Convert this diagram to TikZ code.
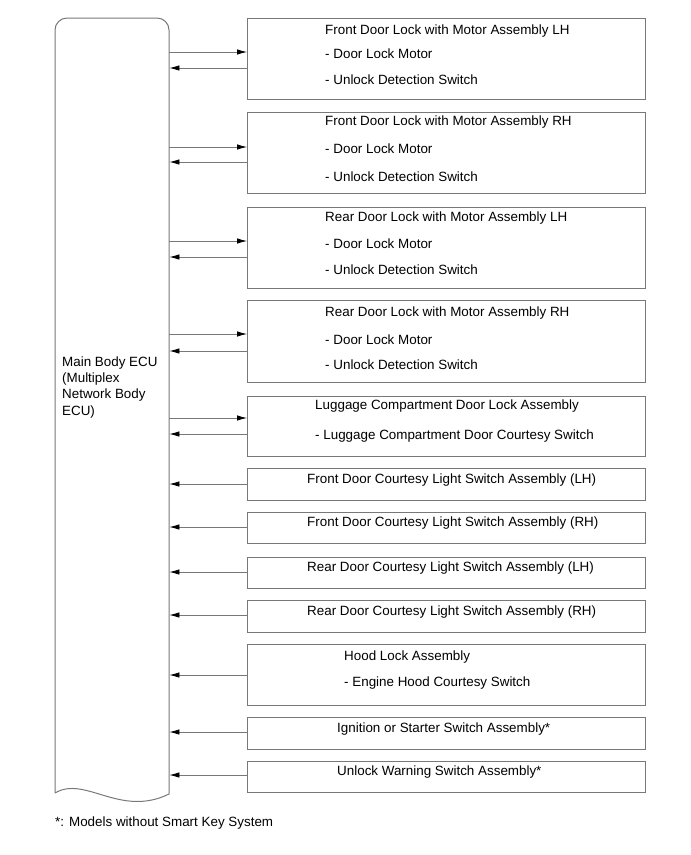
\documentclass[tikz,border=0pt]{standalone}
\usepackage{fontspec}
\setmainfont{Liberation Sans}
\usetikzlibrary{arrows.meta}
\definecolor{lineg}{RGB}{120,120,120}
\begin{document}
\begin{tikzpicture}[x=1pt,y=-1pt,
  every node/.style={font=\fontsize{13.4}{16.3}\selectfont},
  boxnode/.style={draw=lineg,line width=1pt,rectangle,inner sep=0pt,minimum width=398pt,anchor=north west},
  txt/.style={anchor=base west,inner sep=0pt,text=black},
  arr/.style={draw=lineg,line width=0.8pt,-{Latex[length=10pt,width=5.5pt,color=black]}}]
\useasboundingbox (0,0) rectangle (691,855);

% ECU
\node[inner sep=0pt,minimum width=114pt,minimum height=777pt,anchor=north west] (ecu) at (55,18) {};
\draw[lineg,line width=1pt] (55,793) -- (55,30) arc[start angle=180,end angle=270,radius=12]
  -- (157,18) arc[start angle=270,end angle=360,radius=12] -- (169,794)
  .. controls (120,818) and (85,775) .. (55,793);
\node[anchor=base west,inner sep=0pt,align=left] (ecut) at (62,415) {Main Body ECU\\(Multiplex\\Network Body\\ECU)};

% boxes
\node[boxnode,minimum height=81pt] (b1) at (247,18) {};
\node[boxnode,minimum height=81pt] (b2) at (247,112) {};
\node[boxnode,minimum height=81pt] (b3) at (247,207) {};
\node[boxnode,minimum height=82pt] (b4) at (247,300) {};
\node[boxnode,minimum height=60pt] (b5) at (247,396) {};
\node[boxnode,minimum height=32pt] (b6) at (247,468) {};
\node[boxnode,minimum height=31pt] (b7) at (247,512) {};
\node[boxnode,minimum height=31pt] (b8) at (247,557) {};
\node[boxnode,minimum height=32pt] (b9) at (247,600) {};
\node[boxnode,minimum height=61pt] (b10) at (247,644) {};
\node[boxnode,minimum height=32pt] (b11) at (247,717) {};
\node[boxnode,minimum height=31pt] (b12) at (247,761) {};

% texts
\node[txt] (t1a) at (325,34) {Front Door Lock with Motor Assembly LH};
\node[txt] (t1b) at (325,58.5) {- Door Lock Motor};
\node[txt] (t1c) at (325,84) {- Unlock Detection Switch};
\node[txt] (t2a) at (325,125.7) {Front Door Lock with Motor Assembly RH};
\node[txt] (t2b) at (325,153) {- Door Lock Motor};
\node[txt] (t2c) at (325,181) {- Unlock Detection Switch};
\node[txt] (t3a) at (325,221) {Rear Door Lock with Motor Assembly LH};
\node[txt] (t3b) at (325,248) {- Door Lock Motor};
\node[txt] (t3c) at (325,274) {- Unlock Detection Switch};
\node[txt] (t4a) at (325,316) {Rear Door Lock with Motor Assembly RH};
\node[txt] (t4b) at (325,344) {- Door Lock Motor};
\node[txt] (t4c) at (325,369) {- Unlock Detection Switch};
\node[txt] (t5a) at (315,409) {Luggage Compartment Door Lock Assembly};
\node[txt] (t5b) at (315,439) {- Luggage Compartment Door Courtesy Switch};
\node[txt] (t6) at (307,483) {Front Door Courtesy Light Switch Assembly (LH)};
\node[txt] (t7) at (307,526) {Front Door Courtesy Light Switch Assembly (RH)};
\node[txt] (t8) at (307,571) {Rear Door Courtesy Light Switch Assembly (LH)};
\node[txt] (t9) at (307,615) {Rear Door Courtesy Light Switch Assembly (RH)};
\node[txt] (t10a) at (344,660) {Hood Lock Assembly};
\node[txt] (t10b) at (344,686) {- Engine Hood Courtesy Switch};
\node[txt] (t11) at (337,732) {Ignition or Starter Switch Assembly*};
\node[txt] (t12) at (337,775) {Unlock Warning Switch Assembly*};
\node[txt] (fn) at (55,826.7) {*: Models without Smart Key System};

% connector anchor points on the box sides
\path (b1.north west) ++(0,34) coordinate (b1o) ++(0,16) coordinate (b1i);
\path (b2.north west) ++(0,35) coordinate (b2o) ++(0,15) coordinate (b2i);
\path (b3.north west) ++(0,34) coordinate (b3o) ++(0,16) coordinate (b3i);
\path (b4.north west) ++(0,34) coordinate (b4o) ++(0,17) coordinate (b4i);
\path (b5.north west) ++(0,22) coordinate (b5o) ++(0,16) coordinate (b5i);
\path (b6.north west) ++(0,16) coordinate (b6i);
\path (b7.north west) ++(0,15) coordinate (b7i);
\path (b8.north west) ++(0,15) coordinate (b8i);
\path (b9.north west) ++(0,15) coordinate (b9i);
\path (b10.north west) ++(0,31) coordinate (b10i);
\path (b11.north west) ++(0,15) coordinate (b11i);
\path (b12.north west) ++(0,14) coordinate (b12i);

% connectors
\foreach \k in {1,...,5}{
  \draw[arr] (ecu.east |- b\k o) -- (b\k o);
}
\foreach \k in {1,...,12}{
  \draw[arr] (b\k i) -- (ecu.east |- b\k i);
}
\end{tikzpicture}
\end{document}
